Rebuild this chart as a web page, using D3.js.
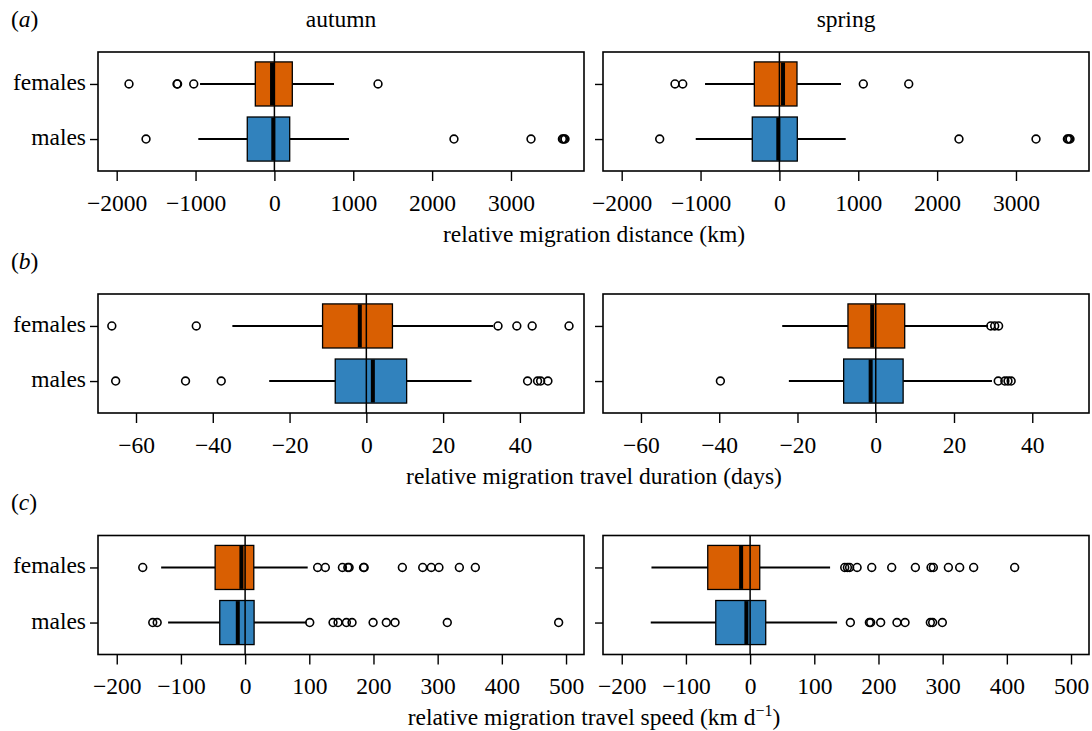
<!DOCTYPE html>
<html>
<head>
<meta charset="utf-8">
<script src="https://cdn.jsdelivr.net/npm/d3@7"></script>
<style>
  body { margin: 0; background: #fff; }
  svg { display: block; }
  text { font-family: "Liberation Serif", "Times New Roman", serif; fill: #000; }
</style>
</head>
<body>
<svg id="chart" width="1092" height="731"></svg>
<script>
// ---------------- DATA ----------------
const sexes = ["females", "males"];
const seasons = ["autumn", "spring"];
const rowLetters = ["a", "b", "c"];
const axisTitles = ["relative migration distance (km)", "relative migration travel duration (days)", "relative migration travel speed (km d"];

// order in each stats / outlier list: autumn-females, autumn-males, spring-females, spring-males
// stats: [lower whisker, Q1, median, Q3, upper whisker]
const distanceStats = [
  [-943, -242, -30, 227, 756],
  [-965, -344, -14, 194, 946],
  [-943, -318, 46, 223, 781],
  [-1061, -344, -14, 227, 841]
];
const distanceOutliers = [
  [-1844, -1235, -1228, -1023, 1314],
  [-1628, 2277, 3254, 3652, 3668, 3685],
  [-1324, -1226, 1064, 1640],
  [-1518, 2277, 3254, 3652, 3668, 3685]
];
const durationStats = [
  [-34.9, -11.4, -1.7, 6.8, 33.0],
  [-25.3, -8.1, 1.7, 10.5, 27.4],
  [-23.9, -7.1, -0.9, 7.4, 28.7],
  [-22.2, -8.2, -1.3, 7.0, 29.7]
];
const durationOutliers = [
  [-66.3, -44.3, 34.3, 39.2, 43.2, 52.8],
  [-65.3, -47.1, -37.8, 42.0, 44.6, 45.4, 47.3],
  [29.4, 30.4, 31.4],
  [-39.7, 31.3, 33.0, 33.8, 34.6]
];
const speedStats = [
  [-130.8, -46.7, -5.8, 13.5, 97.5],
  [-120, -39.5, -11.4, 14, 96],
  [-153.7, -66, -14, 15, 124.6],
  [-154.8, -53.5, -5.8, 24.3, 135.5]
];
const speedOutliers = [
  [-159.5, 113, 125, 151.6, 160, 162, 184.5, 185.5, 245, 276.7, 290, 302, 333.8, 358.7],
  [-143.9, -137, 100.7, 137, 144.8, 157.8, 166.6, 199.4, 220, 233.6, 315, 488.5],
  [147.4, 151.6, 155, 166.7, 189.5, 220.6, 257.5, 281.9, 285.5, 308.9, 326.5, 348.3, 412.2],
  [156.2, 185.8, 187.9, 203.4, 228.8, 241.4, 280.8, 284.4, 299.5]
];

const distanceTicks = [-2000, -1000, 0, 1000, 2000, 3000];
const durationTicks = [-60, -40, -20, 0, 20, 40];
const speedTicks = [-200, -100, 0, 100, 200, 300, 400, 500];

// axis extents [autumn panel, spring panel]
const distanceDomains = [[-2237, 3926], [-2237, 3926]];
const durationDomains = [[-69.9, 56.7], [-69.7, 54.5]];
const speedDomains = [[-229.2, 528], [-229.2, 528]];

const boxColors = ["#D95F02", "#3182BD"];

// ---------------- LAYOUT ----------------
const svg = d3.select("#chart");
const panelX = [98, 603];
const panelW = 486;
const rowY = [52, 294, 535.5];
const panelH = 119;
const FS = 23.5;

const rows = [
  { stats: distanceStats, outliers: distanceOutliers, ticks: distanceTicks, domains: distanceDomains },
  { stats: durationStats, outliers: durationOutliers, ticks: durationTicks, domains: durationDomains },
  { stats: speedStats, outliers: speedOutliers, ticks: speedTicks, domains: speedDomains }
];

const fmt = v => (v < 0 ? "\u2212" + Math.abs(v) : String(v));

// header
seasons.forEach((s, i) => {
  svg.append("text").attr("x", panelX[i] + panelW / 2).attr("y", 26.5)
    .attr("text-anchor", "middle").style("font-size", FS + "px").text(s);
});

rows.forEach((row, r) => {
  const top = rowY[r];
  const bottom = top + panelH;

  // panel letter
  const lt = svg.append("text").attr("x", 11).attr("y", top - 25.5).style("font-size", FS + "px");
  lt.append("tspan").text("(");
  lt.append("tspan").style("font-style", "italic").text(rowLetters[r]);
  lt.append("tspan").text(")");

  seasons.forEach((season, si) => {
    const x0 = panelX[si];
    const x = d3.scaleLinear().domain(row.domains[si]).range([x0, x0 + panelW]);
    const y = d3.scaleLinear().domain([0.42, 2.58]).range([bottom, top]);
    const g = svg.append("g");

    sexes.forEach((sex, k) => {
      const idx = si * 2 + k;
      const st = row.stats[idx];
      const pos = k === 0 ? 2 : 1;
      const cy = y(pos);
      const hh = (y(pos - 0.4) - y(pos + 0.4)) / 2;
      // whiskers
      g.append("line").attr("x1", x(st[0])).attr("x2", x(st[1])).attr("y1", cy).attr("y2", cy)
        .attr("stroke", "#000").attr("stroke-width", 2);
      g.append("line").attr("x1", x(st[3])).attr("x2", x(st[4])).attr("y1", cy).attr("y2", cy)
        .attr("stroke", "#000").attr("stroke-width", 2);
      // box
      g.append("rect").attr("x", x(st[1])).attr("y", cy - hh)
        .attr("width", x(st[3]) - x(st[1])).attr("height", 2 * hh)
        .attr("fill", boxColors[k]).attr("stroke", "#000").attr("stroke-width", 1.3);
      // median
      g.append("line").attr("x1", x(st[2])).attr("x2", x(st[2]))
        .attr("y1", cy - hh + 0.6).attr("y2", cy + hh - 0.6)
        .attr("stroke", "#000").attr("stroke-width", 4);
      // outliers
      g.selectAll(null).data(row.outliers[idx]).enter().append("circle")
        .attr("cx", d => x(d)).attr("cy", cy).attr("r", 3.9)
        .attr("fill", "none").attr("stroke", "#000").attr("stroke-width", 1.6);
    });

    // zero line
    g.append("line").attr("x1", x(0)).attr("x2", x(0)).attr("y1", top).attr("y2", bottom)
      .attr("stroke", "#000").attr("stroke-width", 1.5);

    // frame
    g.append("rect").attr("x", x0).attr("y", top).attr("width", panelW).attr("height", panelH)
      .attr("fill", "none").attr("stroke", "#000").attr("stroke-width", 1.6);

    // x axis
    const xa = svg.append("g").attr("transform", `translate(0,${bottom})`)
      .call(d3.axisBottom(x).tickValues(row.ticks).tickSize(10).tickFormat(fmt));
    xa.select(".domain").remove();
    xa.selectAll(".tick line").attr("stroke", "#000").attr("stroke-width", 1.4);
    xa.selectAll(".tick text").attr("y", 39.8).attr("dy", null)
      .style("font-size", FS + "px").style("font-family", '"Liberation Serif", serif').attr("fill", "#000");

    // y axis
    const ya = svg.append("g").attr("transform", `translate(${x0},0)`)
      .call(d3.axisLeft(y).tickValues([2, 1]).tickSize(8)
        .tickFormat(d => (si === 0 ? (d === 2 ? sexes[0] : sexes[1]) : "")));
    ya.select(".domain").remove();
    ya.selectAll(".tick line").attr("stroke", "#000").attr("stroke-width", 1.4);
    ya.selectAll(".tick text").attr("x", -12).attr("dy", null).attr("y", 5.5)
      .style("font-size", FS + "px").style("font-family", '"Liberation Serif", serif').attr("fill", "#000");
  });

  // axis title
  const t = svg.append("text").attr("x", 594).attr("y", bottom + 70.5)
    .attr("text-anchor", "middle").style("font-size", FS + "px");
  t.append("tspan").text(axisTitles[r]);
  if (r === 2) {
    t.append("tspan").attr("dy", -9).style("font-size", "16px").text("\u22121");
    t.append("tspan").attr("dy", 9).text(")");
  }
});
</script>
</body>
</html>
